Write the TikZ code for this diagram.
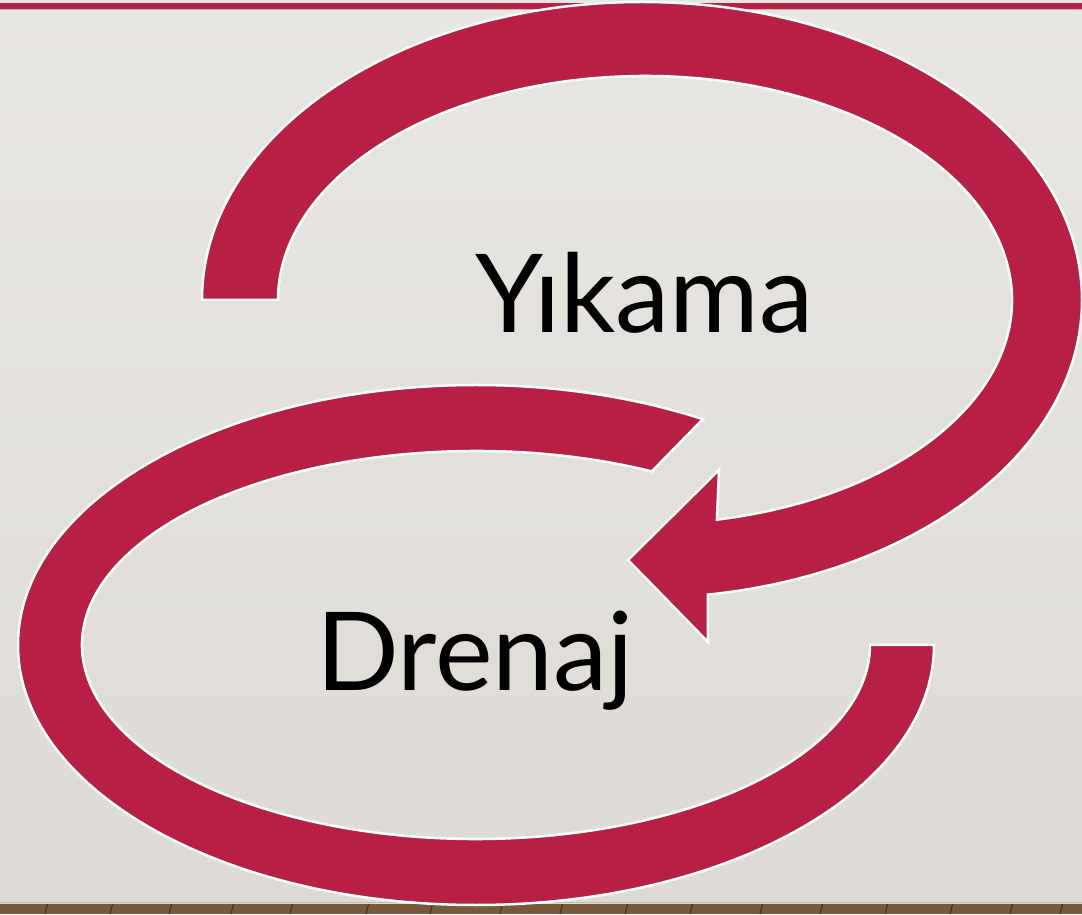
\documentclass[tikz,border=0pt]{standalone}
\usepackage{fontspec}
\setmainfont{Lato}
\definecolor{crimson}{RGB}{184,31,69}
\definecolor{slidetop}{RGB}{232,230,226}
\definecolor{slidebot}{RGB}{222,219,214}
\definecolor{wood}{RGB}{120,90,58}
\definecolor{wooddark}{RGB}{70,50,32}
\tikzset{
  loop arrow/.style={fill=crimson, draw=white, line width=2.5pt, line join=miter},
  big label/.style={inner sep=0pt, anchor=base, font=\fontsize{109}{120}\selectfont, text=black}
}
\begin{document}
\begin{tikzpicture}[x=1pt,y=1pt]
\useasboundingbox (0,0) rectangle (1082,914);
% wood strip
\fill[wood] (0,0) rectangle (1082,12);
\foreach \xx in {45,110,169,231,290,366,430,500,560,625,690,760,820,885,950,1010,1060}
  \draw[wooddark, line width=1.2pt] (\xx,0) -- (\xx+3,12);
% slide background
\shade[top color=slidetop, bottom color=slidebot] (0,11) rectangle (1082,914);
\fill[black!25] (0,11) rectangle (1082,12);
% top bar
\fill[crimson] (0,905) rectangle (1082,911);
\fill[crimson!30!slidetop] (0,904) rectangle (1082,905);
% top loop (Yikama) with arrow head
\coordinate (TC) at (642,614);
\coordinate (TCi) at (645,614);
\coordinate (barbTop) at (719,444);
\coordinate (tip) at (628,354);
\coordinate (barbBot) at (708,272);
\draw[loop arrow] ([shift={(180:440 and 298)}]TC)
  arc[start angle=180, end angle=-81.4, x radius=440, y radius=298]
  -- (barbBot) -- (tip) -- (barbTop)
  -- ([shift={(-78.7:367 and 224)}]TCi)
  arc[start angle=-78.7, end angle=180, x radius=367, y radius=224]
  -- cycle;
% bottom loop (Drenaj)
\coordinate (BC) at (476,269);
\draw[loop arrow] ([shift={(0:458 and 260)}]BC)
  arc[start angle=0, end angle=-299.7, x radius=458, y radius=260]
  -- ([shift={(63.5:394 and 194)}]BC)
  arc[start angle=-296.5, end angle=0, x radius=394, y radius=194]
  -- cycle;
% labels
\node[big label] (yikama) at (644.5,581) {Yıkama};
\node[big label] (drenaj) at (475,224) {Drenaj};
\end{tikzpicture}
\end{document}
